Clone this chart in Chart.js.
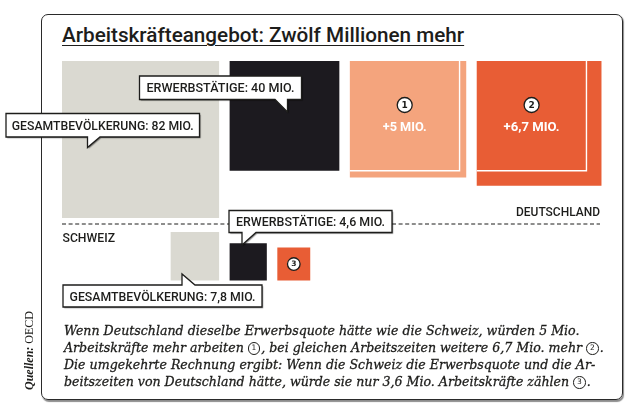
<!DOCTYPE html>
<html lang="de">
<head>
<meta charset="utf-8">
<title>Arbeitskräfteangebot: Zwölf Millionen mehr</title>
<script src="https://cdn.jsdelivr.net/npm/chart.js@4.4.1/dist/chart.umd.min.js"></script>
<style>
  html, body { margin: 0; padding: 0; background: #fff; }
  #wrap { position: relative; width: 630px; height: 410px; overflow: hidden; }
  #frame {
    position: absolute; left: 41px; top: 14px; width: 580px; height: 384px;
    border: 1.3px solid #2a2a2a; border-radius: 7px;
    box-shadow: 1px 1.5px 1px rgba(0,0,0,0.45);
  }
  #chart { position: absolute; left: 0; top: 0; }
  #title {
    position: absolute; left: 62px; top: 25px; margin: 0;
    font: 500 20.7px Roboto, sans-serif; line-height: 20px; color: #1d1d1b;
    text-decoration: underline; text-decoration-thickness: 1px; text-underline-offset: 3px;
    white-space: nowrap;
  }
  #note {
    position: absolute; left: 64px; top: 322px; margin: 0;
    font: italic 12.6px "DejaVu Serif", serif; line-height: 17px; color: #1d1d1b;
    white-space: nowrap; -webkit-text-stroke: 0.3px #1d1d1b;
  }
  .num {
    display: inline-block; width: 10.5px; height: 10.5px; line-height: 10.5px;
    border: 1px solid #1d1d1b; border-radius: 50%; text-align: center;
    font: normal 7.5px "DejaVu Sans", sans-serif; -webkit-text-stroke: 0;
    vertical-align: 2px; margin: 0 1px 0 0;
  }
  #source {
    position: absolute; left: 23px; top: 390px; margin: 0;
    transform: rotate(-90deg); transform-origin: left top;
    font: 12px "Liberation Serif", serif; line-height: 12px; color: #1d1d1b;
    white-space: nowrap;
  }
  #source b { font-style: italic; }
</style>
</head>
<body>
<div id="wrap">
  <div id="frame"></div>
  <h1 id="title">Arbeitskräfteangebot: Zwölf Millionen mehr</h1>
  <canvas id="chart" width="630" height="410"></canvas>
  <div id="note">
    <div>Wenn Deutschland dieselbe Erwerbsquote hätte wie die Schweiz, würden 5 Mio.</div>
    <div>Arbeitskräfte mehr arbeiten <span class="num">1</span>, bei gleichen Arbeitszeiten weitere 6,7 Mio. mehr <span class="num">2</span>.</div>
    <div>Die umgekehrte Rechnung ergibt: Wenn die Schweiz die Erwerbsquote und die Ar-</div>
    <div>beitszeiten von Deutschland hätte, würde sie nur 3,6 Mio. Arbeitskräfte zählen <span class="num">3</span>.</div>
  </div>
  <p id="source"><b>Quellen:</b> OECD</p>
</div>
<script>
// values in Mio. persons; square area is proportional to value
const deutschlandLabels = ["GESAMTBEVÖLKERUNG: 82 MIO.", "ERWERBSTÄTIGE: 40 MIO.", "+5 MIO.", "+6,7 MIO."];
const deutschlandValues = [82, 40, 5, 6.7];
const schweizLabels = ["GESAMTBEVÖLKERUNG: 7,8 MIO.", "ERWERBSTÄTIGE: 4,6 MIO.", ""];
const schweizValues = [7.8, 4.6, 3.6];
const markers = ["1", "2", "3"];

const colors = { gray: "#dad9d1", black: "#1c1a1f", salmon: "#f4a47d", orange: "#e85d35", ink: "#1d1d1b" };
const labelFont = "Roboto, sans-serif";

// layout
const UNIT = 17.35;          // px per sqrt(Mio.)
const GAP = 10.5;
const DE_TOP = 61, DE_LEFT = 62;
const CH_BOTTOM = 280.5;
const DIVIDER_Y = 224;

const side = v => Math.sqrt(v) * UNIT;

// Germany: population, employed, employed + 5, employed + 5 + 6,7
const deAreas = [
  deutschlandValues[0],
  deutschlandValues[1],
  deutschlandValues[1] + deutschlandValues[2],
  deutschlandValues[1] + deutschlandValues[2] + deutschlandValues[3]
];
const deX = [];
let cur = DE_LEFT;
deAreas.forEach(a => { deX.push(cur); cur += side(a) + GAP; });

// Switzerland: bottom aligned, population square ends where the German one ends
const chX = [];
cur = deX[0] + side(deAreas[0]) - side(schweizValues[0]);
schweizValues.forEach(v => { chX.push(cur); cur += side(v) + GAP; });

function squareTop(x0, top, s) {
  return [{x: x0, y: top}, {x: x0 + s, y: top}, {x: x0 + s, y: top + s}, {x: x0, y: top + s}, {x: x0, y: top}];
}
function squareBottom(x0, bottom, s) {
  return squareTop(x0, bottom - s, s);
}
function squareSet(data, color) {
  return { data: data, showLine: true, fill: "shape", backgroundColor: color, borderWidth: 0, pointRadius: 0, order: 2 };
}

const deColors = [colors.gray, colors.black, colors.salmon, colors.orange];
const chColors = [colors.gray, colors.black, colors.orange];

const datasets = [];
// white outline of the 40 Mio. square inside the two bigger squares
[2, 3].forEach(i => {
  const s = side(deutschlandValues[1]);
  datasets.push({
    data: [{x: deX[i] + s, y: DE_TOP}, {x: deX[i] + s, y: DE_TOP + s}, {x: deX[i], y: DE_TOP + s}],
    showLine: true, fill: false, borderColor: "#ffffff", borderWidth: 1.4, pointRadius: 0, order: 0
  });
});
// divider between the countries
datasets.push({
  data: [{x: DE_LEFT, y: DIVIDER_Y}, {x: 600, y: DIVIDER_Y}],
  showLine: true, fill: false, borderColor: colors.ink, borderWidth: 1, borderDash: [4, 2.6], pointRadius: 0, order: 1
});
deAreas.forEach((a, i) => datasets.push(squareSet(squareTop(deX[i], DE_TOP, side(a)), deColors[i])));
schweizValues.forEach((v, i) => datasets.push(squareSet(squareBottom(chX[i], CH_BOTTOM, side(v)), chColors[i])));

// condensed label text: squeeze the glyphs to the width they take in the print layout
function fitText(ctx, text, x, y, width, align, size, weight, color) {
  ctx.save();
  ctx.font = (weight || "normal") + " " + size + "px " + labelFont;
  ctx.fillStyle = color || colors.ink;
  ctx.textBaseline = "alphabetic";
  ctx.textAlign = align;
  const k = width / ctx.measureText(text).width;
  ctx.translate(x, y);
  ctx.scale(k, 1);
  ctx.fillText(text, 0, 0);
  ctx.restore();
}

// callout box with a pointer; tip = [baseA, baseB, tipX, tipY], pointer on the bottom or top edge
function callout(ctx, text, textW, bx, by, bw, bh, tip) {
  const [b1, b2, tx, ty] = tip;
  const edge = ty > by ? by + bh : by;
  ctx.save();
  ctx.beginPath();
  ctx.moveTo(bx, by);
  if (edge === by) { ctx.lineTo(b1, by); ctx.lineTo(tx, ty); ctx.lineTo(b2, by); }
  ctx.lineTo(bx + bw, by);
  ctx.lineTo(bx + bw, by + bh);
  if (edge !== by) { ctx.lineTo(b2, by + bh); ctx.lineTo(tx, ty); ctx.lineTo(b1, by + bh); }
  ctx.lineTo(bx, by + bh);
  ctx.closePath();
  ctx.shadowColor = "rgba(0,0,0,0.45)";
  ctx.shadowOffsetX = 1.2;
  ctx.shadowOffsetY = 1.2;
  ctx.shadowBlur = 1;
  ctx.fillStyle = "#ffffff";
  ctx.fill();
  ctx.shadowColor = "transparent";
  ctx.lineWidth = 1.3;
  ctx.strokeStyle = colors.ink;
  ctx.stroke();
  ctx.restore();
  fitText(ctx, text, bx + bw / 2, by + bh / 2 + 4.6, textW, "center", 12.5, "500");
}

function marker(ctx, digit, cx, cy, r, size) {
  ctx.save();
  ctx.beginPath();
  ctx.arc(cx, cy, r, 0, Math.PI * 2);
  ctx.fillStyle = "#ffffff";
  ctx.fill();
  ctx.lineWidth = 1.3;
  ctx.strokeStyle = colors.ink;
  ctx.stroke();
  ctx.font = "bold " + size + "px 'DejaVu Sans', sans-serif";
  ctx.fillStyle = colors.ink;
  ctx.textAlign = "center";
  ctx.textBaseline = "middle";
  ctx.fillText(digit, cx, cy + 0.5);
  ctx.restore();
}

const labelsPlugin = {
  id: "labels",
  afterDatasetsDraw(chart) {
    const ctx = chart.ctx;
    const sx = chart.scales.x, sy = chart.scales.y;
    const px = v => sx.getPixelForValue(v);
    const py = v => sy.getPixelForValue(v);

    // country names
    fitText(ctx, "DEUTSCHLAND", px(600), py(215.5), 84, "right", 12.5, "500");
    fitText(ctx, "SCHWEIZ", px(62.5), py(241.5), 52.5, "left", 12.5, "500");

    // markers and increments inside the German squares
    const s40 = side(deutschlandValues[1]);
    const incW = [44, 56];
    [2, 3].forEach((i, k) => {
      const cx = px(deX[i] + s40 / 2);
      marker(ctx, markers[k], cx, py(DE_TOP + 44), 7.5, 9);
      fitText(ctx, deutschlandLabels[i], cx, py(DE_TOP + 70), incW[k], "center", 13, "bold", "#ffffff");
    });
    const s36 = side(schweizValues[2]);
    marker(ctx, markers[2], px(chX[2] + s36 / 2), py(CH_BOTTOM - s36 / 2), 6.3, 7.5);

    // callouts
    callout(ctx, deutschlandLabels[1], 148, px(139.5), py(76), 162, 23.5, [px(275), px(287.5), px(287.5), py(112)]);
    callout(ctx, deutschlandLabels[0], 182, px(6), py(113.5), 193.5, 23.5, [px(87.5), px(100), px(87.5), py(147.5)]);
    callout(ctx, schweizLabels[1], 149, px(229), py(210.5), 163, 22, [px(242), px(256), px(242), py(245)]);
    callout(ctx, schweizLabels[0], 186, px(63), py(285), 199, 22, [px(182), px(195), px(182), py(274)]);
  }
};

new Chart(document.getElementById("chart"), {
  type: "scatter",
  data: { datasets: datasets },
  options: {
    responsive: false,
    animation: false,
    events: [],
    layout: { padding: 0 },
    scales: {
      x: { type: "linear", min: 0, max: 630, display: false },
      y: { type: "linear", min: 0, max: 410, reverse: true, display: false }
    },
    plugins: {
      legend: { display: false },
      tooltip: { enabled: false },
      filler: { propagate: false }
    }
  },
  plugins: [labelsPlugin]
});
</script>
</body>
</html>
